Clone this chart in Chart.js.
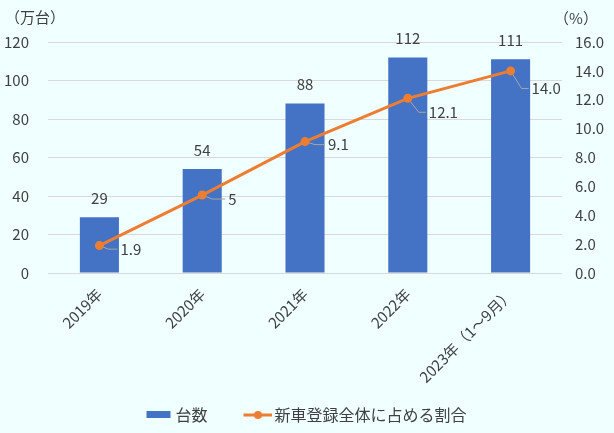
<!DOCTYPE html>
<html><head><meta charset="utf-8">
<script src="https://cdn.jsdelivr.net/npm/chart.js@4.4.0/dist/chart.umd.min.js"></script>
<style>html,body{margin:0;padding:0;background:#F0FFFF;}canvas{display:block;}</style>
</head><body>
<canvas id="c" width="614" height="433"></canvas>
<script>
const categories = ['2019年', '2020年', '2021年', '2022年', '2023年（1～9月）'];
const unitsValues = [29, 54, 88, 112, 111];
const shareValues = [1.9, 5.4, 9.1, 12.1, 14.0];
const shareLabels = ['1.9', '5', '9.1', '12.1', '14.0'];
const leftTicks = [0, 20, 40, 60, 80, 100, 120];
const rightTicks = [0, 2, 4, 6, 8, 10, 12, 14, 16];
const seriesNames = ['台数', '新車登録全体に占める割合'];
const axisTitles = ['（万台）', '（%）'];

const BAR_COLOR = '#4472C4';
const LINE_COLOR = '#ED7D31';
const TEXT_COLOR = '#404040';
const FONT = '"Noto Sans CJK JP", "Noto Sans", sans-serif';
// label placement (relative to point): [dx to text left, dy to text center, elbow dx]
const leaderOffsets = [[21, 3.6, 9], [26, 4, 10], [23, 3, 10], [21, 14, 11], [21, 17.7, 11]];

Chart.defaults.font.family = FONT;
Chart.defaults.color = TEXT_COLOR;

function barIcon() {
  const c = document.createElement('canvas'); c.width = 28; c.height = 8;
  const g = c.getContext('2d'); g.fillStyle = BAR_COLOR; g.fillRect(3, 0, 24, 7);
  return c;
}
function lineIcon() {
  const c = document.createElement('canvas'); c.width = 32; c.height = 10;
  const g = c.getContext('2d');
  g.strokeStyle = LINE_COLOR; g.lineWidth = 3;
  g.beginPath(); g.moveTo(3, 5); g.lineTo(32, 5); g.stroke();
  g.fillStyle = LINE_COLOR; g.beginPath(); g.arc(17.5, 5, 4, 0, Math.PI * 2); g.fill();
  return c;
}
const icons = [barIcon(), lineIcon()];

const overlay = {
  id: 'overlay',
  beforeDraw(chart) {
    const ctx = chart.ctx;
    ctx.save(); ctx.fillStyle = '#F0FFFF'; ctx.fillRect(0, 0, chart.width, chart.height); ctx.restore();
  },
  afterDatasetDraw(chart, args) {
    if (args.index !== 0) return;
    const ctx = chart.ctx;
    const pts = chart.getDatasetMeta(1).data;
    ctx.save();
    ctx.strokeStyle = '#A6A6A6'; ctx.lineWidth = 1;
    pts.forEach((p, i) => {
      const [dx, dy, ex] = leaderOffsets[i];
      ctx.beginPath();
      ctx.moveTo(p.x, p.y);
      ctx.lineTo(p.x + ex, p.y + dy);
      ctx.lineTo(p.x + dx - 3, p.y + dy);
      ctx.stroke();
    });
    ctx.restore();
  },
  afterDatasetsDraw(chart) {
    const ctx = chart.ctx;
    ctx.save();
    ctx.fillStyle = TEXT_COLOR;
    ctx.font = '15px ' + FONT;
    ctx.textBaseline = 'middle';
    ctx.textAlign = 'center';
    chart.getDatasetMeta(0).data.forEach((b, i) => {
      ctx.fillText(String(unitsValues[i]), b.x, b.y - 19);
    });
    ctx.textAlign = 'left';
    chart.getDatasetMeta(1).data.forEach((p, i) => {
      const [dx, dy] = leaderOffsets[i];
      ctx.fillText(shareLabels[i], p.x + dx, p.y + dy);
    });
    ctx.textAlign = 'center';
    ctx.fillText(axisTitles[0], 35, 17);
    ctx.fillText(axisTitles[1], 576, 18);
    ctx.restore();
  }
};

new Chart(document.getElementById('c'), {
  type: 'bar',
  data: {
    labels: categories,
    datasets: [
      {
        type: 'bar', label: seriesNames[0], data: unitsValues, yAxisID: 'y',
        backgroundColor: BAR_COLOR, categoryPercentage: 1, barPercentage: 0.38, order: 2
      },
      {
        type: 'line', label: seriesNames[1], data: shareValues, yAxisID: 'y1',
        borderColor: LINE_COLOR, backgroundColor: LINE_COLOR, borderWidth: 3,
        pointRadius: 4.5, pointBackgroundColor: LINE_COLOR, pointBorderWidth: 0,
        tension: 0, order: 1
      }
    ]
  },
  options: {
    responsive: false,
    animation: false,
    layout: { padding: { top: 42, left: 0, right: 0, bottom: 0 } },
    scales: {
      x: {
        grid: { display: false }, border: { display: false },
        ticks: { maxRotation: 45, minRotation: 45, autoSkip: false, padding: 4, font: { size: 15 }, color: TEXT_COLOR },
        afterFit(s) { s.height = 95; s._computeLabelArea = () => undefined; }
      },
      y: {
        position: 'left',
        min: leftTicks[0], max: leftTicks[leftTicks.length - 1], ticks: { stepSize: leftTicks[1] - leftTicks[0], padding: 19, font: { size: 15 }, color: TEXT_COLOR },
        grid: { color: '#D9D9D9', lineWidth: 1, drawTicks: false }, border: { display: false },
        afterFit(s) { s.width = 48; }
      },
      y1: {
        position: 'right',
        min: rightTicks[0], max: rightTicks[rightTicks.length - 1],
        ticks: { stepSize: rightTicks[1] - rightTicks[0], padding: 13, font: { size: 15 }, color: TEXT_COLOR, callback: v => Number(v).toFixed(1) },
        grid: { drawOnChartArea: false, drawTicks: false }, border: { display: false },
        afterFit(s) { s.width = 52; }
      }
    },
    plugins: {
      tooltip: { enabled: false },
      legend: {
        position: 'bottom',
        labels: {
          usePointStyle: true, pointStyleWidth: 20, padding: 39,
          font: { size: 16 }, color: TEXT_COLOR,
          generateLabels(chart) {
            const items = Chart.defaults.plugins.legend.labels.generateLabels(chart);
            items.sort((a, b) => a.datasetIndex - b.datasetIndex);
            items.forEach(it => { it.pointStyle = icons[it.datasetIndex]; });
            return items;
          }
        }
      }
    }
  },
  plugins: [overlay]
});
</script>
</body></html>
